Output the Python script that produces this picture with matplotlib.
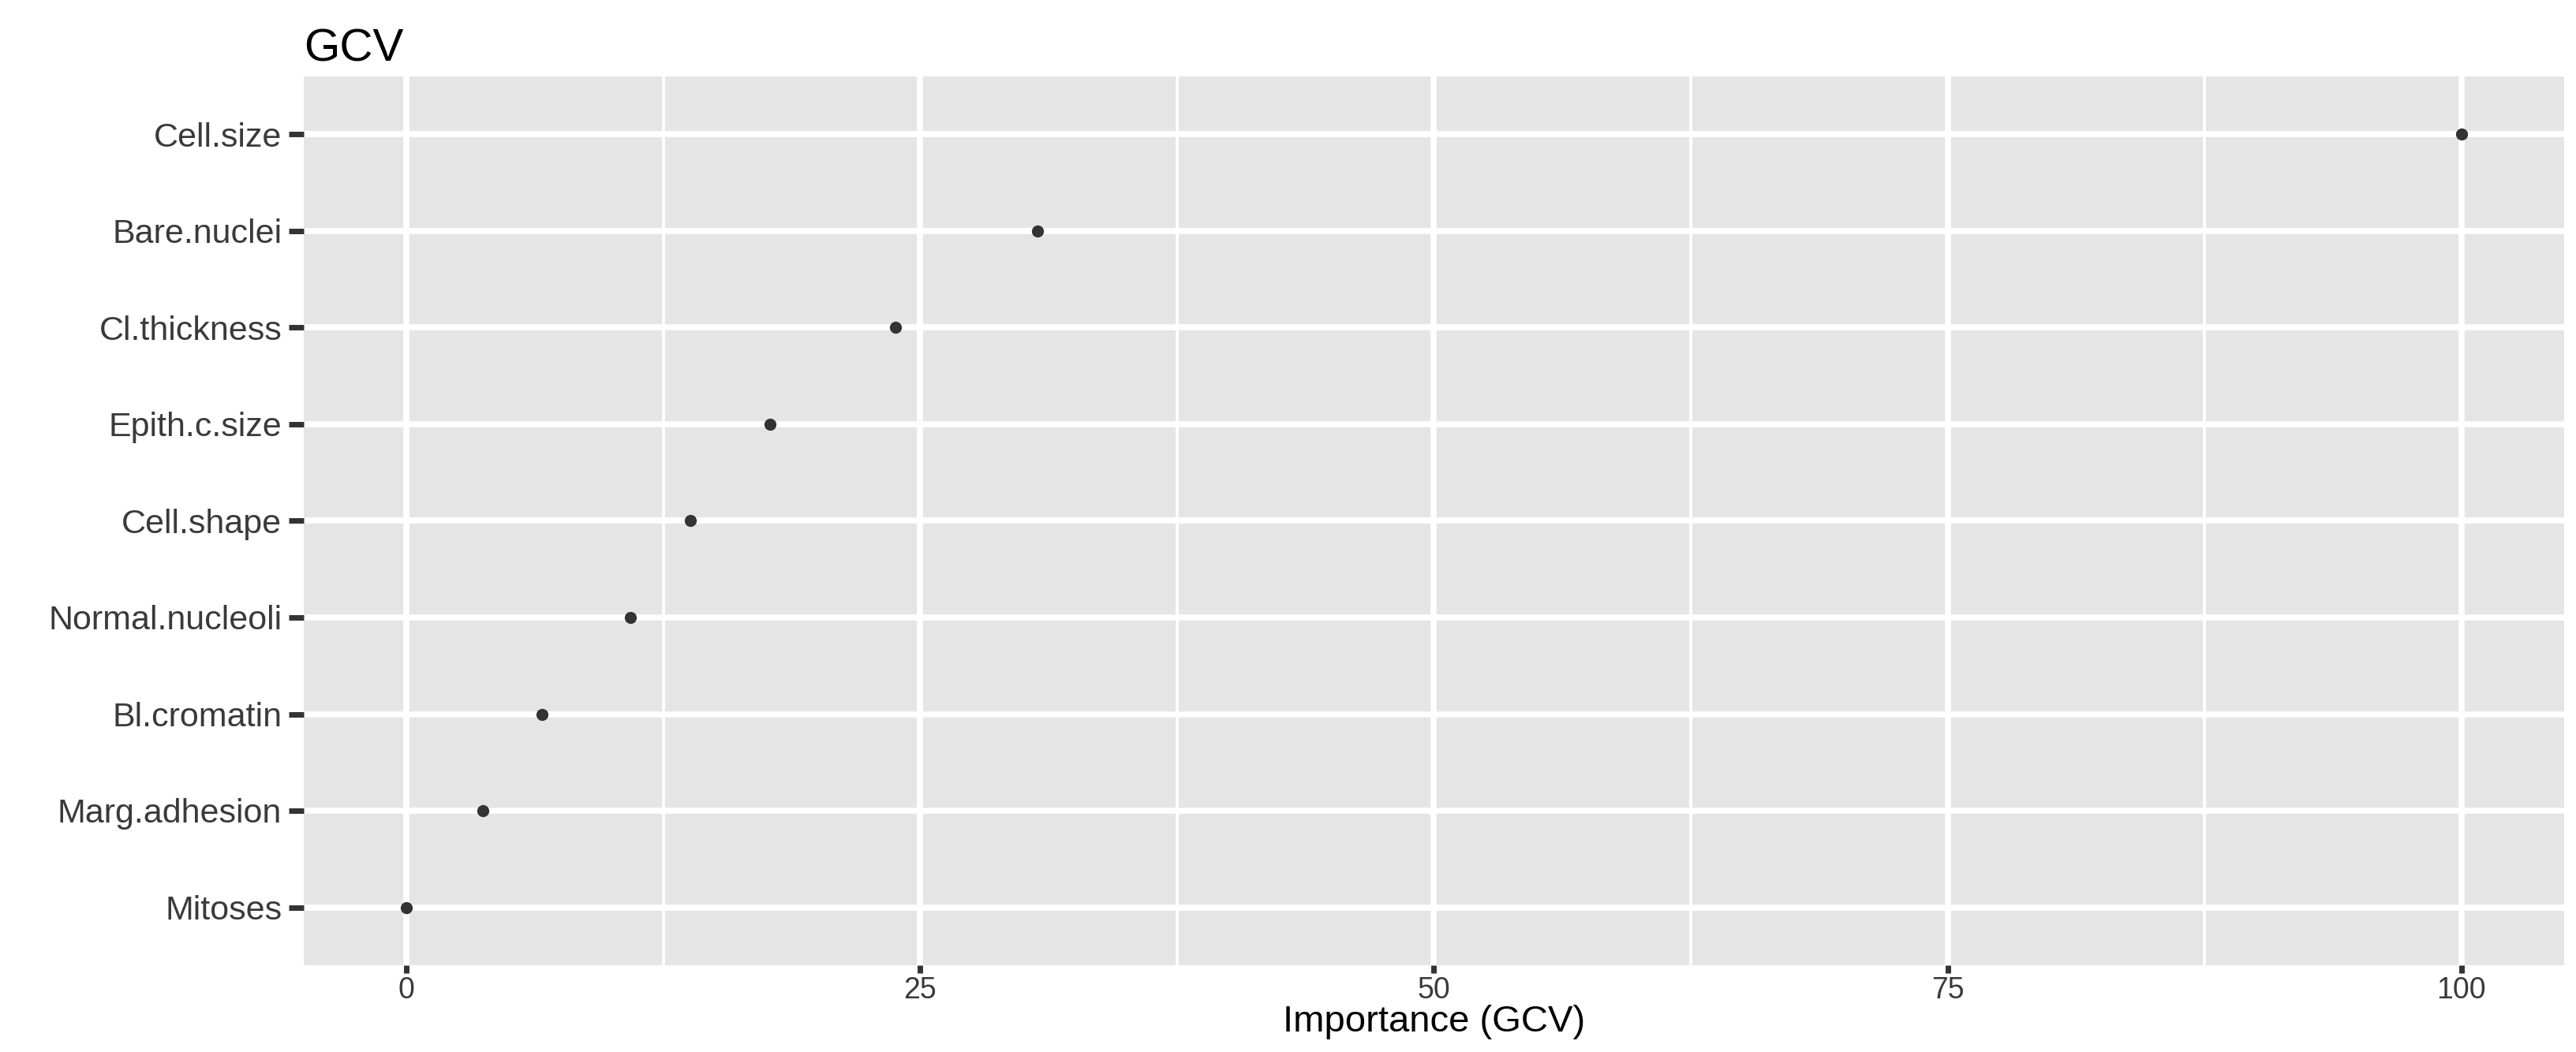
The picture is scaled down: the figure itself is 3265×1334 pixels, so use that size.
import matplotlib
matplotlib.use('Agg')
import matplotlib.pyplot as plt
import numpy as np

# data (top to bottom as in the chart)
features = ['Cell.size', 'Bare.nuclei', 'Cl.thickness', 'Epith.c.size', 'Cell.shape',
            'Normal.nucleoli', 'Bl.cromatin', 'Marg.adhesion', 'Mitoses']
importance = [100, 30.7, 23.8, 17.7, 13.8, 10.9, 6.6, 3.7, 0]
x_ticks = [0, 25, 50, 75, 100]
x_minor = [12.5, 37.5, 62.5, 87.5]

plt.rcParams['font.family'] = ['Liberation Sans', 'DejaVu Sans']

W, H = 3266, 1334
fig = plt.figure(figsize=(W / 100, H / 100), dpi=100)
# panel placed in pixel coords
left, right, top, bottom = 385, 3250, 97, 1224
ax = fig.add_axes([left / W, 1 - bottom / H, (right - left) / W, (bottom - top) / H])
ax.set_facecolor('#E5E5E5')
for s in ax.spines.values():
    s.set_visible(False)

ypos = np.arange(len(features), 0, -1)
ax.set_xlim(-5, 105)
ax.set_ylim(0.4, len(features) + 0.6)

ax.set_xticks(x_ticks)
ax.set_xticks(x_minor, minor=True)
ax.set_yticks(ypos)
ax.set_yticklabels(features)
ax.set_axisbelow(True)
ax.grid(which='major', axis='both', color='white', lw=5.5)
ax.grid(which='minor', axis='x', color='white', lw=2.8)

ax.plot(importance, ypos, 'o', color='#333333', markersize=11, markeredgewidth=0)

ax.tick_params(axis='y', length=14, width=5, color='#333333', pad=6,
               labelsize=31, labelcolor='#3A3A3A')
ax.tick_params(axis='x', which='major', length=7, width=5, color='#333333', pad=3,
               labelsize=27, labelcolor='#3A3A3A')
ax.tick_params(axis='x', which='minor', length=0)

ax.set_xlabel('Importance (GCV)', fontsize=34, color='black')
ax.xaxis.set_label_coords(0.5, -(1296 - bottom) / (bottom - top))
ax.xaxis.label.set_va('center')
ax.set_title('GCV', loc='left', fontsize=42, pad=14, color='black')

fig.savefig('out.png', dpi=100)
